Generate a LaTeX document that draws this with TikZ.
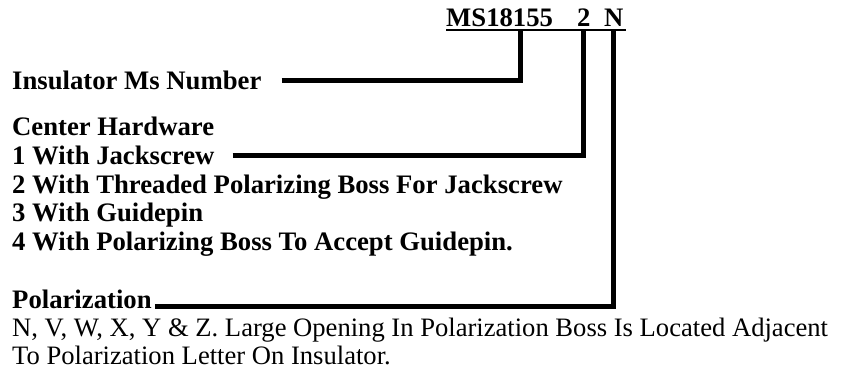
\documentclass[tikz,border=0pt]{standalone}
\usepackage{fontspec}
\setmainfont{Liberation Serif}
\usetikzlibrary{calc,positioning}
\tikzset{
  lbl/.style={anchor=base west,inner sep=0pt,font=\bfseries\fontsize{26.7}{29}\selectfont},
  txt/.style={anchor=base west,inner sep=0pt,font=\fontsize{26.6}{29}\selectfont},
  lead/.style={line width=5pt,line join=miter}
}
\begin{document}
\begin{tikzpicture}[x=1pt,y=-1pt]
\useasboundingbox (0,0) rectangle (841,387);
\node[lbl] (num) at (446,27) {MS18155};
\node[lbl] (hw) at (577,27) {2};
\node[lbl] (pol) at (604,27) {N};
\draw[line width=2pt] ([yshift=-3pt]num.base west) -- ([yshift=-3pt,xshift=2pt]pol.base east);
\coordinate (t1) at (520,30);
\coordinate (t2) at ($(hw.base)+(0,3)$);
\coordinate (t3) at ($(pol.base)+(0,3)$);
\node[lbl] (ins) at (12,90) {Insulator Ms Number};
\node[lbl] (ch) at (12,136) {Center Hardware};
\node[lbl] (h1) at (12,165) {1 With Jackscrew};
\node[lbl] (h2) at (12,194) {2 With Threaded Polarizing Boss For Jackscrew};
\node[lbl] (h3) at (12,222) {3 With Guidepin};
\node[lbl] (h4) at (12,251) {4 With Polarizing Boss To Accept Guidepin.};
\node[lbl] (pt) at (12,309) {Polarization};
\node[txt] (d1) at (12,337) {N, V, W, X, Y \& Z. Large Opening In Polarization Boss Is Located Adjacent};
\node[txt] (d2) at (12,365) {To Polarization Letter On Insulator.};
\draw[lead] ([xshift=20pt]ins.east) -| (t1);
\draw[lead] ([xshift=18pt]h1.east) -| (t2);
\draw[lead] ([xshift=3pt,yshift=2.5pt]pt.base east) -| (t3);
\end{tikzpicture}
\end{document}
